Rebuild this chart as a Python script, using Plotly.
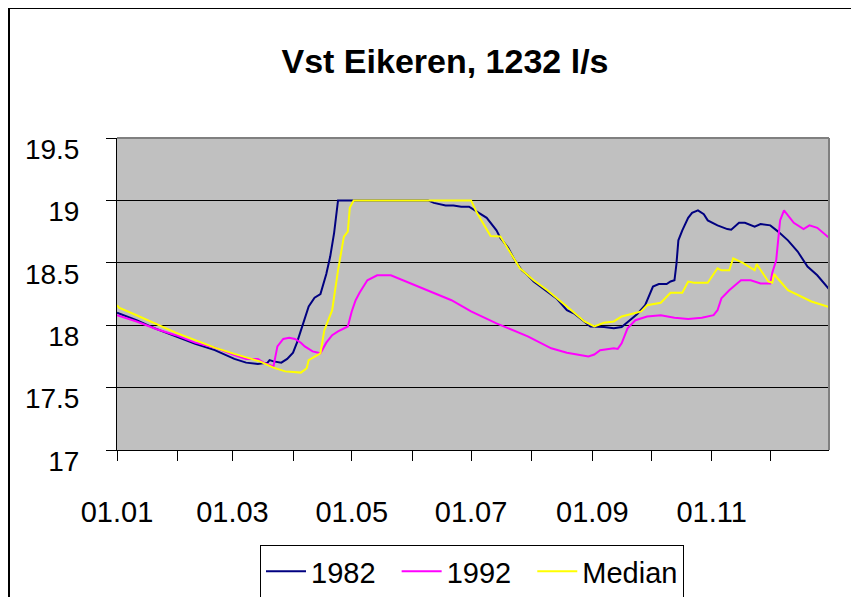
import pandas as pd
import plotly.graph_objects as go

# ---- data (day of year, water level) ----
days_1982 = [0, 10, 20, 30, 40, 50, 60, 66, 72, 77, 78, 80, 84, 87, 90, 92, 95, 98, 101, 104, 107, 109, 111, 113,
             121, 159, 162, 165, 168, 172, 176, 180, 183, 186, 189, 194, 196, 200, 203, 207, 210, 213, 220, 225, 230,
             234, 238, 242, 249, 254, 258, 263, 266, 270, 272, 274, 277, 281, 283, 285, 286, 287, 289, 292, 294, 297,
             300, 302, 307, 312, 314, 318, 321, 326, 329, 334, 338, 343, 348, 353, 358, 364]
vals_1982 = [18.10, 18.04, 17.97, 17.91, 17.85, 17.80, 17.73, 17.70, 17.69, 17.70, 17.72, 17.71, 17.70, 17.73, 17.78,
             17.86, 18.00, 18.15, 18.22, 18.25, 18.41, 18.55, 18.74, 19.00,
             19.00, 19.00, 18.98, 18.97, 18.96, 18.96, 18.95, 18.95, 18.92, 18.89, 18.86, 18.76, 18.70, 18.62, 18.53,
             18.44, 18.40, 18.35, 18.27, 18.21, 18.12,
             18.09, 18.04, 17.99, 17.985, 17.975, 17.985, 18.05, 18.09, 18.16, 18.23, 18.31, 18.33, 18.33, 18.35,
             18.36, 18.49, 18.68, 18.76, 18.86, 18.90, 18.92,
             18.89, 18.84, 18.80, 18.77, 18.765, 18.82, 18.82, 18.79, 18.81, 18.80, 18.75, 18.68, 18.59, 18.47,
             18.40, 18.29]

days_1992 = [0, 10, 20, 30, 40, 50, 60, 66, 72, 75, 80, 82, 85, 88, 91, 94, 96, 100, 104, 107, 110, 113, 118, 120,
             122, 124, 128, 133, 140, 148, 160, 171, 181, 194, 210, 222, 230, 236, 241, 244, 247, 254, 256, 258, 261,
             265, 271, 278, 285, 292, 299, 305, 307, 309, 313, 319, 324, 329, 334, 335, 337, 339, 341, 346, 351, 354,
             358, 364]
vals_1992 = [18.08, 18.03, 17.97, 17.92, 17.86, 17.82, 17.76, 17.73, 17.73, 17.70, 17.67, 17.83, 17.89, 17.90, 17.89,
             17.86, 17.83, 17.79, 17.775, 17.86, 17.92, 17.95, 17.99, 18.11,
             18.20, 18.26, 18.36, 18.40, 18.40, 18.35, 18.27, 18.20, 18.11, 18.015, 17.91, 17.815, 17.78, 17.765,
             17.75, 17.765, 17.80, 17.815, 17.81, 17.855, 17.975,
             18.04, 18.07, 18.08, 18.06, 18.05, 18.06, 18.08, 18.12, 18.215, 18.28, 18.36, 18.36, 18.335, 18.335,
             18.42, 18.52, 18.84, 18.92, 18.82, 18.77, 18.80,
             18.78, 18.70]

days_median = [0, 1, 10, 20, 30, 40, 50, 60, 66, 73, 80, 86, 94, 97, 98, 101, 104, 106, 110, 113, 116, 118, 119, 121,
               181, 184, 188, 191, 196, 201, 206, 213, 220, 230, 234, 239, 244, 249, 254, 258, 263, 268, 271, 278,
               283, 289, 292, 295, 302, 307, 309, 313, 315, 320, 326, 327, 333, 335, 336, 338, 343, 350, 355, 364]
vals_median = [18.16, 18.14, 18.08, 18.01, 17.94, 17.88, 17.82, 17.77, 17.74, 17.71, 17.66, 17.63, 17.62, 17.655,
               17.72, 17.75, 17.775, 17.96, 18.12, 18.44, 18.71, 18.75, 18.94, 19.00,
               19.00, 18.90, 18.79, 18.715, 18.71, 18.58, 18.456, 18.36, 18.28, 18.15, 18.095, 18.03, 17.99, 18.02,
               18.03, 18.07, 18.09, 18.11, 18.16, 18.18,
               18.26, 18.26, 18.35, 18.34, 18.34, 18.456, 18.44, 18.44, 18.536, 18.50, 18.44, 18.49, 18.35, 18.34,
               18.41, 18.37, 18.28, 18.23, 18.19, 18.145]

series_names = ["1982", "1992", "Median"]
series_colors = ["#000080", "#FF00FF", "#FFFF00"]
y_tick_vals = [17, 17.5, 18, 18.5, 19, 19.5]
y_tick_text = ["17", "17.5", "18", "18.5", "19", "19.5"]
title_text = "Vst Eikeren, 1232 l/s"

base = pd.Timestamp("2001-01-01")


def to_dates(days):
    return [base + pd.Timedelta(days=d) for d in days]


FONT = "Liberation Sans, Arial, sans-serif"
OFF = 8  # page body margin
W, H = 859 - OFF, 597 - OFF
L, R, T, B = 117 - OFF, 30, 138 - OFF, 147
PW, PH = W - L - R, H - T - B
NBSP = "\u00a0"


def px_x(sx):
    return (sx - OFF - L) / PW


def px_y(sy):
    return (H - B - (sy - OFF)) / PH


# legend spacing: pad the shorter labels so entries are evenly spaced as in the original
legend_labels = [series_names[0] + NBSP * 2, series_names[1] + NBSP * 2, series_names[2]]

fig = go.Figure()
for name, color, d, v in zip(legend_labels, series_colors,
                             [days_1982, days_1992, days_median],
                             [vals_1982, vals_1992, vals_median]):
    fig.add_trace(go.Scatter(x=to_dates(d), y=v, mode="lines", name=name,
                             line=dict(color=color, width=2)))

fig.update_layout(
    width=W, height=H, autosize=False,
    margin=dict(l=L, r=R, t=T, b=B, autoexpand=False),
    paper_bgcolor="white", plot_bgcolor="#C0C0C0",
    font=dict(family=FONT, color="black", size=28),
    title=dict(text="<b>" + title_text + "</b>", x=(445 - OFF) / W, xanchor="center",
               y=1 - (61 - OFF) / H, yanchor="middle", yref="container",
               font=dict(family=FONT, size=34, color="black")),
    showlegend=True,
    legend=dict(orientation="h", x=px_x(472), xanchor="center", y=px_y(545), yanchor="top",
                bgcolor="white", bordercolor="black", borderwidth=1,
                font=dict(family=FONT, size=29, color="black"),
                itemwidth=40),
    xaxis=dict(type="date", range=["2001-01-01", "2001-12-31"],
               tick0="2001-01-01", dtick="M2", tickformat="%d.%m",
               ticks="outside", ticklen=10, tickcolor="black", tickwidth=1,
               showgrid=False, zeroline=False, showline=True, linecolor="black", linewidth=1,
               tickfont=dict(family=FONT, size=29), ticklabelstandoff=26,
               minor=dict(dtick="M1", ticks="outside", ticklen=10, tickcolor="black", showgrid=False),
               automargin=False, fixedrange=True),
    yaxis=dict(range=[17, 19.5], tickvals=y_tick_vals, ticktext=y_tick_text,
               ticks="outside", ticklen=10, tickcolor="black", tickwidth=1,
               showgrid=True, gridcolor="black", gridwidth=1, zeroline=False,
               showline=True, linecolor="black", linewidth=1,
               tickfont=dict(family=FONT, size=28), ticklabelstandoff=21, ticklabelshift=11,
               automargin=False, fixedrange=True),
    shapes=[
        # plot area gray top/right border
        dict(type="line", xref="paper", yref="paper", x0=0, x1=1, y0=1, y1=1,
             line=dict(color="#808080", width=2), layer="above"),
        dict(type="line", xref="paper", yref="paper", x0=1, x1=1, y0=0, y1=1,
             line=dict(color="#808080", width=2), layer="above"),
        # outer chart border (top and left)
        dict(type="line", xref="paper", yref="paper", x0=px_x(8), x1=px_x(870), y0=px_y(8), y1=px_y(8),
             line=dict(color="black", width=2)),
        dict(type="line", xref="paper", yref="paper", x0=px_x(9), x1=px_x(9), y0=px_y(8), y1=px_y(620),
             line=dict(color="black", width=2)),
    ],
)

fig.write_html("out.html")
